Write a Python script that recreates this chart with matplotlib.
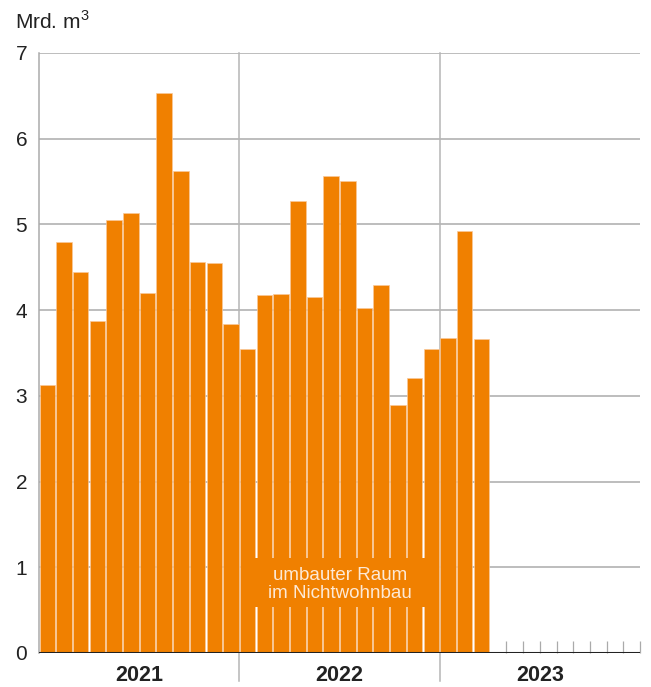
import matplotlib
matplotlib.use("Agg")
import matplotlib.pyplot as plt
from matplotlib.patches import Rectangle

years = ["2021", "2022", "2023"]
values = [3.13, 4.79, 4.45, 3.87, 5.05, 5.13, 4.20, 6.53, 5.62, 4.56, 4.55, 3.84,
          3.55, 4.18, 4.19, 5.27, 4.15, 5.56, 5.51, 4.02, 4.29, 2.89, 3.21, 3.55,
          3.67, 4.92, 3.66]
y_ticks = [0, 1, 2, 3, 4, 5, 6, 7]
unit_label = "Mrd. m$^3$"
box_label = "umbauter Raum\nim Nichtwohnbau"

plt.rcParams["font.family"] = ["Liberation Sans", "DejaVu Sans"]
plt.rcParams["mathtext.fontset"] = "custom"
plt.rcParams["mathtext.rm"] = "Liberation Sans"

orange = "#f08000"
grid_c = "#ababab"
text_c = "#222222"

fig = plt.figure(figsize=(6.51, 6.87), dpi=100)
ax = fig.add_axes([39/651, 1-653/687, (640-39)/651, (653-53)/687])

n_months = 12 * len(years)
xs = [i + 0.5 for i in range(len(values))]
ax.bar(xs, values, width=0.93, color=orange, edgecolor="#f9c89a", linewidth=0.5, zorder=3)

ax.set_xlim(0, n_months)
ax.set_ylim(0, 7)

# horizontal grid
for t in y_ticks[1:]:
    ax.axhline(t, color=grid_c, lw=1.1, zorder=1)

# year separators
for k in range(1, len(years)):
    ax.plot([12*k, 12*k], [-0.33, 7], color="#b5b5b5", lw=1.1, zorder=2, clip_on=False)

# spines
for s in ["top", "right", "bottom"]:
    ax.spines[s].set_visible(False)
ax.spines["left"].set_color(grid_c)
ax.spines["left"].set_linewidth(1.1)
ax.axhline(0, color="#222222", lw=2.2, zorder=5)

# ticks
ax.set_yticks(y_ticks)
ax.set_yticklabels([str(t) for t in y_ticks], fontsize=15, color=text_c)
ax.tick_params(axis="y", length=0, pad=8.5)
ax.set_xticks(range(len(values) + 1, n_months + 1))
ax.set_xticklabels([])
ax.tick_params(axis="x", direction="in", length=9, width=0.9, color="#aaaaaa")

for k, y in enumerate(years):
    ax.text(12*k + 6, -0.26, y, ha="center", va="center", fontsize=15.5,
            fontweight="bold", color=text_c)

fig.text(15/651, 1-22/687, unit_label, fontsize=15, color=text_c, va="center", ha="left")

# annotation box
ax.add_patch(Rectangle((12.3, 0.54), 11.4, 0.57, facecolor=orange, edgecolor="none", zorder=4))
ax.text(18.05, 0.80, box_label, ha="center", va="center", fontsize=13.5,
        color="#fde9d6", linespacing=1.05, zorder=6)

fig.savefig("out.png", dpi=100)
